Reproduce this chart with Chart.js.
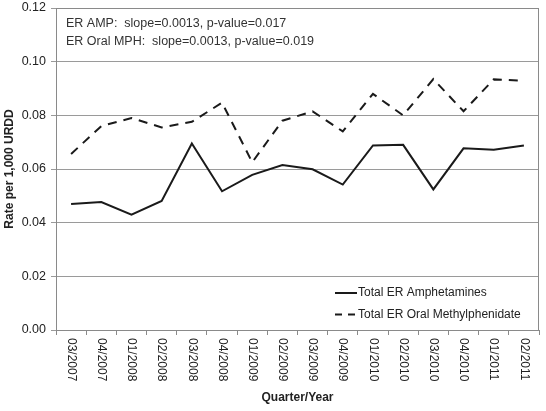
<!DOCTYPE html>
<html><head><meta charset="utf-8">
<script src="https://cdn.jsdelivr.net/npm/chart.js@4.4.0/dist/chart.umd.min.js"></script>
<style>html,body{margin:0;padding:0;background:#fff}#wrap{width:546px;height:411px}</style>
</head><body><div id="wrap"><canvas id="c" width="546" height="411"></canvas></div>
<script>
const categories = ["03/2007","04/2007","01/2008","02/2008","03/2008","04/2008","01/2009","02/2009","03/2009","04/2009","01/2010","02/2010","03/2010","04/2010","01/2011","02/2011"];
const amphetamines = [0.0470,0.0477,0.0430,0.0481,0.0695,0.0517,0.0578,0.0615,0.0599,0.0542,0.0688,0.0690,0.0524,0.0677,0.0672,0.0688];
const methylphenidate = [0.0656,0.0760,0.0790,0.0755,0.0776,0.0847,0.0625,0.0780,0.0815,0.0740,0.0880,0.0800,0.0935,0.0815,0.0934,0.0929];
const seriesNames = ["Total ER Amphetamines","Total ER Oral Methylphenidate"];
const annotationLines = ["ER AMP:  slope=0.0013, p-value=0.017","ER Oral MPH:  slope=0.0013, p-value=0.019"];
const xTitle = "Quarter/Year";
const yTitle = "Rate per 1,000 URDD";
const FONT = "'Liberation Sans', Arial, Helvetica, sans-serif";

const overlay = {
  id:'overlay',
  afterDraw(chart){
    const {ctx, chartArea:a, scales} = chart;
    ctx.save();
    // frame
    ctx.strokeStyle = '#8a8a8a'; ctx.lineWidth = 1;
    ctx.strokeRect(a.left+0.5, a.top+0.5, a.right-a.left-1, a.bottom-a.top);
    // x tick labels rotated clockwise
    const xs = scales.x;
    ctx.fillStyle = '#222'; ctx.font = '12px ' + FONT;
    ctx.textAlign = 'left'; ctx.textBaseline = 'middle';
    categories.forEach((lab,i)=>{
      const px = xs.getPixelForValue(i);
      ctx.save(); ctx.translate(px, a.bottom + 8); ctx.rotate(Math.PI/2);
      ctx.fillText(lab, 0, 0); ctx.restore();
    });
    // annotation
    ctx.font = '12.5px ' + FONT; ctx.fillStyle = '#333'; ctx.textBaseline='middle';
    annotationLines.forEach((t,i)=> ctx.fillText(t, a.left + 10, a.top + 16 + i*17.5));
    // axis titles
    ctx.font = 'bold 12px ' + FONT; ctx.fillStyle = '#222'; ctx.textAlign='center';
    ctx.fillText(xTitle, (a.left+a.right)/2, 398);
    ctx.save(); ctx.translate(10, (a.top+a.bottom)/2); ctx.rotate(-Math.PI/2);
    ctx.fillText(yTitle, 0, 0); ctx.restore();
    // legend
    ctx.font = '12px ' + FONT; ctx.textAlign='left';
    chart.data.datasets.forEach((ds,i)=>{
      const y = 293 + i*21.5;
      ctx.save();
      ctx.strokeStyle = ds.borderColor; ctx.lineWidth = ds.borderWidth;
      ctx.setLineDash(ds.borderDash ? [7,6] : []);
      ctx.beginPath(); ctx.moveTo(335, y); ctx.lineTo(357, y); ctx.stroke();
      ctx.restore();
      ctx.fillStyle = '#222';
      ctx.fillText(ds.label, 358, y);
    });
    ctx.restore();
  }
};

new Chart(document.getElementById('c'), {
  type:'line',
  data:{
    labels: categories,
    datasets:[
      {label:seriesNames[0], data:amphetamines, borderColor:'#1a1a1a', borderWidth:2, pointRadius:0, tension:0, fill:false},
      {label:seriesNames[1], data:methylphenidate, borderColor:'#1a1a1a', borderWidth:2, borderDash:[9,7], pointRadius:0, tension:0, fill:false}
    ]
  },
  options:{
    responsive:false, animation:false,
    layout:{padding:{top:8,right:7,left:0,bottom:0}},
    plugins:{legend:{display:false}, tooltip:{enabled:false}},
    scales:{
      x:{
        offset:true,
        afterFit(s){ s.height = 81; },
        ticks:{display:false},
        grid:{offset:true, drawOnChartArea:false, drawTicks:true, tickLength:5, color:'#8a8a8a'},
        border:{color:'#8a8a8a'}
      },
      y:{
        min:0, max:0.12,
        afterFit(s){ s.width = 56; s.paddingTop = 0; s.paddingBottom = 0; },
        ticks:{stepSize:0.02, padding:5, color:'#222', font:{family:FONT, size:12.5, lineHeight:0.4},
          callback:v=>Number(v).toFixed(2)},
        grid:{color:'#9a9a9a', tickLength:5, drawTicks:true},
        border:{color:'#8a8a8a'}
      }
    }
  },
  plugins:[overlay]
});
</script></body></html>
